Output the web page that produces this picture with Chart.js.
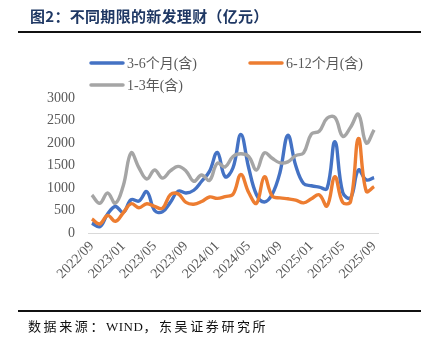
<!DOCTYPE html>
<html>
<head>
<meta charset="utf-8">
<script src="https://cdn.jsdelivr.net/npm/chart.js@4.4.1/dist/chart.umd.min.js"></script>
<style>
  html, body { margin: 0; padding: 0; background: #fff; }
  #wrap { position: relative; width: 429px; height: 349px; overflow: hidden; }
  #title { position: absolute; left: 30px; top: 5px; line-height: 20px; font: bold 15px "Noto Sans CJK SC"; color: #1f3864; letter-spacing: 0.3px; white-space: nowrap; }
  .rule { position: absolute; left: 18px; width: 403px; background: #111; }
  #src { position: absolute; left: 28px; top: 316px; line-height: 18px; font: 13px "Liberation Serif", "Noto Sans CJK SC"; color: #111; letter-spacing: 2.6px; white-space: nowrap; }
  #src span { letter-spacing: 0.5px; }
  canvas { position: absolute; left: 0; top: 0; }
</style>
</head>
<body>
<div id="wrap">
  <canvas id="lineChart" width="429" height="349"></canvas>
  <div id="title">图2：不同期限的新发理财（亿元）</div>
  <div class="rule" style="top:31px;height:2px"></div>
  <div class="rule" style="top:310px;height:1.5px"></div>
  <div id="src">数据来源：<span>WIND</span>，东吴证券研究所</div>
</div>
<script>
const months = [
  '2022/09', '2022/10', '2022/11', '2022/12',
  '2023/01', '2023/02', '2023/03', '2023/04', '2023/05', '2023/06', '2023/07', '2023/08',
  '2023/09', '2023/10', '2023/11', '2023/12',
  '2024/01', '2024/02', '2024/03', '2024/04', '2024/05', '2024/06', '2024/07', '2024/08',
  '2024/09', '2024/10', '2024/11', '2024/12',
  '2025/01', '2025/02', '2025/03', '2025/04', '2025/05', '2025/06', '2025/07', '2025/08',
  '2025/09'
];
const tickLabels = ['2022/09', '2023/01', '2023/05', '2023/09', '2024/01', '2024/05', '2024/09', '2025/01', '2025/05', '2025/09'];
const seriesNames = ['3-6个月(含)', '6-12个月(含)', '1-3年(含)'];

// 亿元
const shortTerm = [220, 140, 420, 590, 460, 740, 710, 920, 500, 470, 680, 930, 890, 950, 1150, 1370, 1790, 1250, 1450, 2190, 1450, 850, 690, 860, 1350, 2170, 1500, 1100, 1050, 1020, 990, 2030, 900, 780, 1400, 1180, 1230];
const midTerm = [310, 200, 390, 260, 450, 650, 560, 650, 590, 550, 850, 870, 680, 640, 700, 800, 770, 810, 860, 1300, 900, 660, 1250, 820, 780, 760, 730, 670, 760, 850, 600, 1250, 680, 700, 2100, 930, 1030];
const longTerm = [844, 660, 890, 660, 1050, 1780, 1450, 1200, 1400, 1220, 1380, 1480, 1380, 1150, 1290, 1170, 1550, 1470, 1700, 1760, 1700, 1400, 1780, 1660, 1560, 1580, 1720, 1780, 2200, 2260, 2550, 2570, 2150, 2350, 2640, 2000, 2290];

const serif = '"Liberation Serif", "Noto Sans CJK SC"';

// legend drawn by hand: two items on the first row, one under
const cornerLegend = {
  id: 'cornerLegend',
  afterDraw(chart) {
    const ctx = chart.ctx;
    const spots = [[91, 63], [250, 63], [91, 85]];
    chart.data.datasets.forEach((ds, i) => {
      const [x, y] = spots[i];
      ctx.save();
      ctx.strokeStyle = ds.borderColor;
      ctx.lineWidth = 3.5;
      ctx.lineCap = 'round';
      ctx.beginPath();
      ctx.moveTo(x, y);
      ctx.lineTo(x + 32, y);
      ctx.stroke();
      ctx.fillStyle = '#595959';
      ctx.font = '14px ' + serif;
      ctx.textBaseline = 'middle';
      ctx.fillText(ds.label, x + 36, y + 1);
      ctx.restore();
    });
  }
};

const ctx = document.getElementById('lineChart').getContext('2d');
new Chart(ctx, {
  type: 'line',
  data: {
    labels: months,
    datasets: [
      { label: seriesNames[0], data: shortTerm, borderColor: '#4472c4', order: 3 },
      { label: seriesNames[1], data: midTerm, borderColor: '#ed7d31', order: 2 },
      { label: seriesNames[2], data: longTerm, borderColor: '#a5a5a5', order: 1 }
    ]
  },
  options: {
    responsive: false,
    animation: false,
    devicePixelRatio: 1,
    layout: { padding: { left: 0, right: 51, top: 98, bottom: 46 } },
    elements: {
      line: { borderWidth: 3.4, tension: 0.4, fill: false },
      point: { radius: 0 }
    },
    scales: {
      x: {
        offset: true,
        afterFit: s => { s.height = 70; },
        grid: { display: false, drawTicks: false },
        border: { display: true, color: '#d9d9d9', width: 1 },
        ticks: {
          autoSkip: false,
          minRotation: 45,
          maxRotation: 45,
          padding: 5,
          color: '#595959',
          font: { family: serif, size: 14 },
          callback: function (value) {
            const lab = this.getLabelForValue(value);
            return tickLabels.includes(lab) ? lab : '';
          }
        }
      },
      y: {
        min: 0,
        max: 3000,
        afterFit: s => { s.width = 88; },
        grid: { display: false, drawTicks: false },
        border: { display: false },
        ticks: {
          stepSize: 500,
          padding: 13,
          color: '#595959',
          font: { family: serif, size: 14 },
          callback: v => String(v)
        }
      }
    },
    plugins: {
      legend: { display: false },
      tooltip: { enabled: false }
    }
  },
  plugins: [cornerLegend]
});
</script>
</body>
</html>
